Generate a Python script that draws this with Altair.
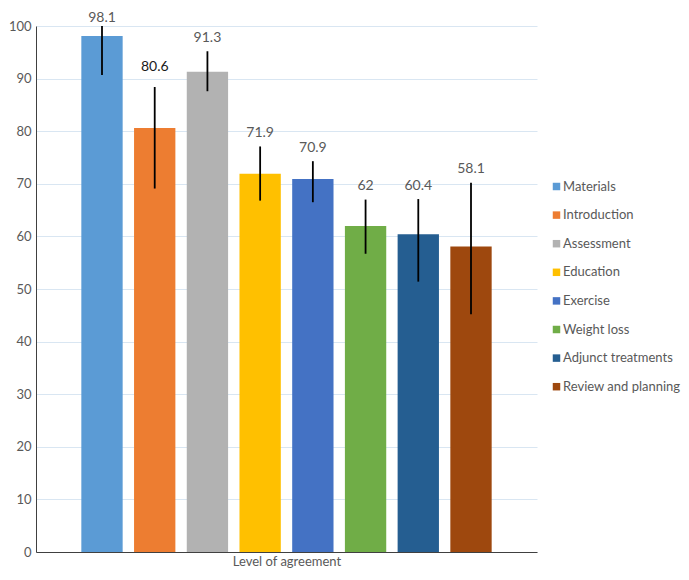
import altair as alt
import pandas as pd

categories = ["Materials", "Introduction", "Assessment", "Education",
              "Exercise", "Weight loss", "Adjunct treatments", "Review and planning"]
values = [98.1, 80.6, 91.3, 71.9, 70.9, 62, 60.4, 58.1]
err_low = [90.7, 69.1, 87.6, 66.8, 66.5, 56.7, 51.4, 45.2]
err_high = [100.0, 88.4, 95.2, 77.1, 74.3, 67.0, 67.1, 70.2]
colors = ["#5B9BD5", "#ED7D31", "#B2B2B2", "#FFC000",
          "#4472C4", "#70AD47", "#255E91", "#9E480E"]
y_ticks = [0, 10, 20, 30, 40, 50, 60, 70, 80, 90, 100]

df = pd.DataFrame({
    "category": categories,
    "value": values,
    "low": err_low,
    "high": err_high,
    "label": [f"{v:g}" for v in values],
})

FONT = "Lato"
GRAY = "#595959"

x_enc = alt.X(
    "category:N",
    sort=categories,
    scale=alt.Scale(paddingInner=0.216, paddingOuter=0.86),
    axis=alt.Axis(labels=False, ticks=False, title="Level of agreement",
                  titleFont=FONT, titleFontSize=13, titleFontWeight="normal",
                  titleColor=GRAY, titlePadding=3, domainColor="#404040",
                  domainWidth=1, grid=False),
)
y_scale = alt.Scale(domain=[0, 100], nice=False)

bars = alt.Chart(df).mark_bar().encode(
    x=x_enc,
    y=alt.Y("value:Q", scale=y_scale,
            axis=alt.Axis(values=y_ticks, title=None, ticks=False,
                          labelFont=FONT, labelFontSize=13, labelColor=GRAY,
                          labelPadding=5, domainColor="#404040", domainWidth=1,
                          gridColor="#D9E6F2", gridWidth=1)),
    color=alt.Color("category:N", sort=categories,
                    scale=alt.Scale(domain=categories, range=colors),
                    legend=alt.Legend(title=None, orient="none", legendX=514,
                                      legendY=154, symbolType="square",
                                      symbolSize=56, symbolStrokeWidth=0,
                                      labelFont=FONT, labelFontSize=13,
                                      labelColor=GRAY, labelOffset=0,
                                      rowPadding=14.6, labelLimit=200)),
)

errs = alt.Chart(df).mark_rule(color="black", strokeWidth=1.8).encode(
    x=alt.X("category:N", sort=categories),
    y=alt.Y("low:Q", scale=y_scale),
    y2="high:Q",
)


def label_layer(filt, dy, color):
    return alt.Chart(df).transform_filter(filt).mark_text(
        dy=dy, baseline="middle", font=FONT, fontSize=14, color=color
    ).encode(
        x=alt.X("category:N", sort=categories),
        y=alt.Y("high:Q", scale=y_scale),
        text="label:N",
    )


lab_first = label_layer(alt.datum.category == "Materials", -8, GRAY)
lab_intro = label_layer(alt.datum.category == "Introduction", -20, "#1a1a1a")
lab_rest = label_layer(
    (alt.datum.category != "Materials") & (alt.datum.category != "Introduction"),
    -13.5, GRAY)

chart = alt.layer(bars, errs, lab_first, lab_intro, lab_rest).properties(
    width=501,
    height=526,
    background="white",
    autosize=alt.AutoSizeParams(type="none"),
    padding={"left": 28, "top": 18, "right": 144, "bottom": 20},
).configure_view(stroke=None)

chart.save("out.html", embed_options={"renderer": "svg", "actions": False})
